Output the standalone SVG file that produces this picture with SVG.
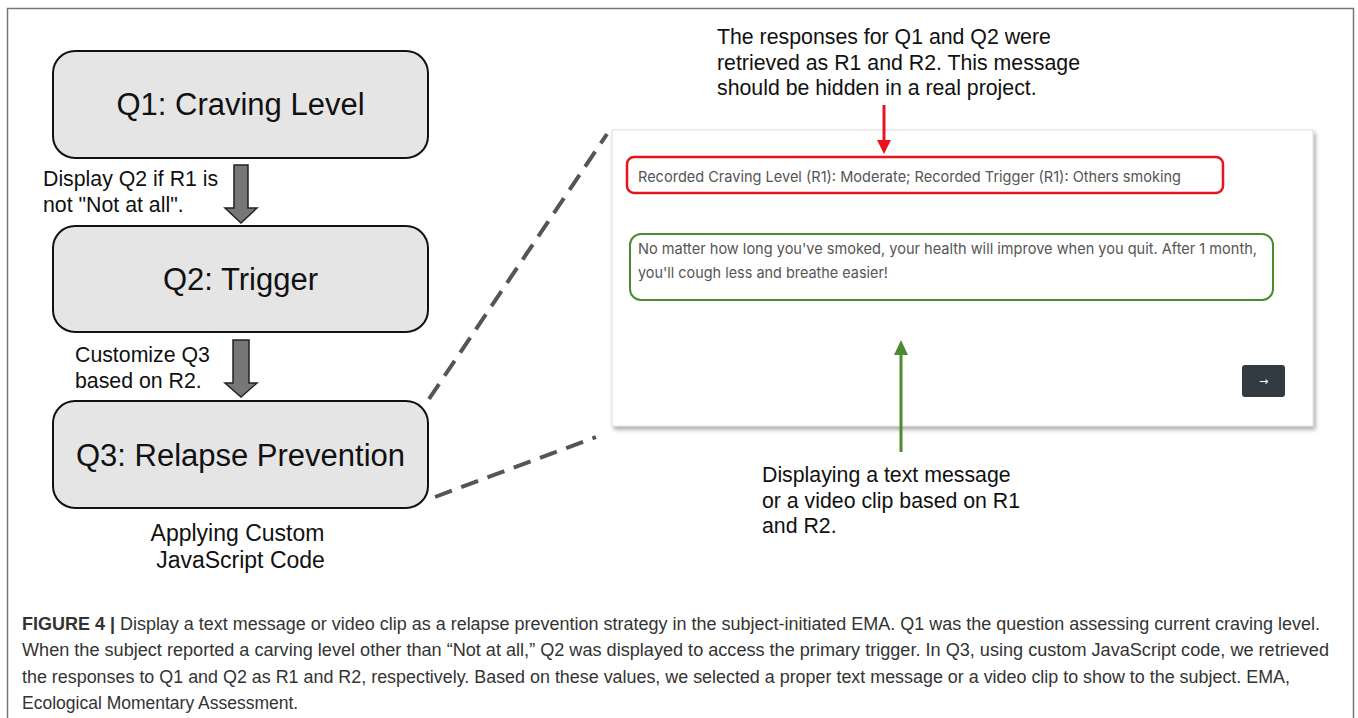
<svg xmlns="http://www.w3.org/2000/svg" width="1358" height="718" viewBox="0 0 1358 718">
<style>
.box{fill:#e6e5e6;stroke:#111;stroke-width:2}
.qt{font-family:"Liberation Sans",Arial,sans-serif;font-size:31px;fill:#111;text-anchor:middle}
.lb{font-family:"Liberation Sans",Arial,sans-serif;font-size:21.3px;fill:#111}
.lb2{font-family:"Liberation Sans",Arial,sans-serif;font-size:23px;fill:#111;text-anchor:middle}
.ann{font-family:"Liberation Sans",Arial,sans-serif;font-size:21.3px;fill:#111}
.flow{fill:#777;stroke:#222;stroke-width:1.5}
.dash{fill:none;stroke:#555;stroke-width:4;stroke-dasharray:18 10}
.ui{font-family:Inter,"Noto Sans",sans-serif;font-size:15px;fill:#555}
.cap{font-family:"Liberation Sans",Arial,sans-serif;font-size:17.5px;fill:#333}
</style>
<defs>
<filter id="sh" x="-5%" y="-5%" width="110%" height="115%">
<feDropShadow dx="2" dy="3" stdDeviation="2" flood-color="#000" flood-opacity="0.35"/>
</filter>
</defs>
<rect x="0" y="0" width="1358" height="718" fill="#fff"/>
<path d="M7.5 720 V8.5 H1353.5 V720" fill="none" stroke="#777" stroke-width="1.5"/>

<g id="q1">
<rect class="box" x="53" y="51" width="375" height="107" rx="22"/>
<text class="qt" x="240.5" y="115">Q1: Craving Level</text>
</g>
<g id="q2">
<rect class="box" x="53" y="226" width="375" height="106" rx="22"/>
<text class="qt" x="240.5" y="290">Q2: Trigger</text>
</g>
<g id="q3">
<rect class="box" x="53" y="401" width="375" height="107" rx="22"/>
<text class="qt" x="240.5" y="466">Q3: Relapse Prevention</text>
</g>

<g id="screenshot">
<rect x="612" y="130" width="701" height="296" fill="#fff" stroke="#ddd" stroke-width="1" filter="url(#sh)"/>
<g id="recorded">
<rect x="627" y="157" width="596" height="36" rx="7" fill="#fff" stroke="#e8141c" stroke-width="2.5"/>
<text class="ui" x="638" y="182" textLength="543" lengthAdjust="spacingAndGlyphs">Recorded Craving Level (R1): Moderate; Recorded Trigger (R1): Others smoking</text>
</g>
<g id="message">
<rect x="630" y="234" width="643" height="66" rx="11" fill="#fff" stroke="#4e8a2f" stroke-width="2"/>
<text class="ui" x="638" y="254" textLength="619" lengthAdjust="spacingAndGlyphs">No matter how long you've smoked, your health will improve when you quit. After 1 month,</text>
<text class="ui" x="638" y="278" textLength="250" lengthAdjust="spacingAndGlyphs">you'll cough less and breathe easier!</text>
</g>
<g id="next-button">
<rect x="1242" y="365" width="43" height="32" rx="3" fill="#323b42"/>
<text x="1263.5" y="385" font-family="'DejaVu Sans',sans-serif" font-size="11" fill="#fff" text-anchor="middle">→</text>
</g>
</g>

<g id="connectors">
<polygon class="flow" points="234,165 248,165 248,208 257,208 241,223 225,208 234,208"/>
<polygon class="flow" points="233,340 249,340 249,383 257,383 241,397 225,383 233,383"/>
<line class="dash" x1="429" y1="399" x2="607" y2="134"/>
<line class="dash" x1="435" y1="497" x2="596" y2="437"/>
<g id="red-arrow">
<line x1="884" y1="105" x2="884" y2="142" stroke="#e8141c" stroke-width="3"/>
<polygon points="877,140 891,140 884,154" fill="#e8141c"/>
</g>
<g id="green-arrow">
<line x1="901" y1="352" x2="901" y2="452" stroke="#4e8a2f" stroke-width="3"/>
<polygon points="894,355 908,355 901,340" fill="#4e8a2f"/>
</g>
</g>

<g id="labels">
<text class="lb" x="43" y="186">Display Q2 if R1 is</text>
<text class="lb" x="43" y="212">not "Not at all".</text>
<text class="lb" x="75" y="362">Customize Q3</text>
<text class="lb" x="75" y="388">based on R2.</text>
<text class="lb2" x="237.5" y="541">Applying Custom</text>
<text class="lb2" x="240.5" y="568">JavaScript Code</text>
</g>

<g id="top-annotation">
<text class="ann" x="717" y="44">The responses for Q1 and Q2 were</text>
<text class="ann" x="717" y="70">retrieved as R1 and R2. This message</text>
<text class="ann" x="717" y="95">should be hidden in a real project.</text>
</g>

<g id="bottom-annotation">
<text class="ann" x="762" y="482">Displaying a text message</text>
<text class="ann" x="762" y="508">or a video clip based on R1</text>
<text class="ann" x="762" y="533">and R2.</text>
</g>

<g id="caption">
<text class="cap" x="22" y="630" textLength="1298" lengthAdjust="spacingAndGlyphs"><tspan font-weight="bold">FIGURE 4 |</tspan> Display a text message or video clip as a relapse prevention strategy in the subject-initiated EMA. Q1 was the question assessing current craving level.</text>
<text class="cap" x="22" y="656" textLength="1307" lengthAdjust="spacingAndGlyphs">When the subject reported a carving level other than “Not at all,” Q2 was displayed to access the primary trigger. In Q3, using custom JavaScript code, we retrieved</text>
<text class="cap" x="22" y="683" textLength="1268" lengthAdjust="spacingAndGlyphs">the responses to Q1 and Q2 as R1 and R2, respectively. Based on these values, we selected a proper text message or a video clip to show to the subject. EMA,</text>
<text class="cap" x="22" y="709">Ecological Momentary Assessment.</text>
</g>
</svg>
